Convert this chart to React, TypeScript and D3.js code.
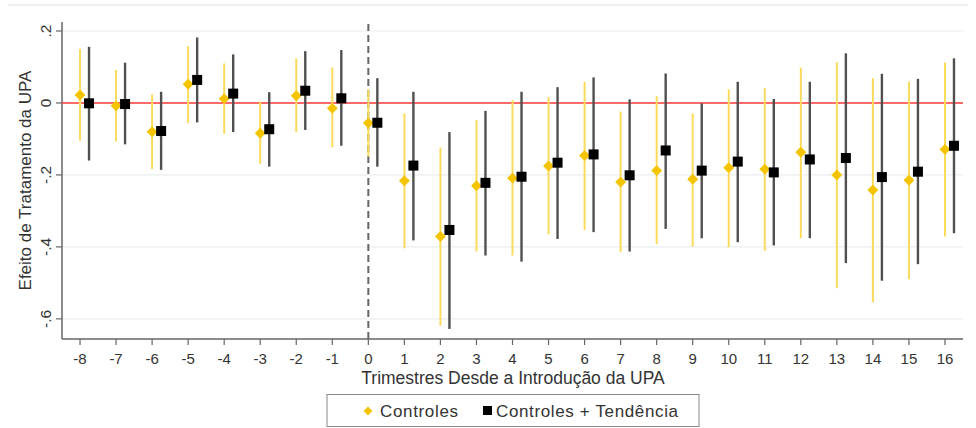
import React from 'react';
import * as d3 from 'd3';

// trimestres desde a introdução da UPA
const periods = [-8, -7, -6, -5, -4, -3, -2, -1, 0, 1, 2, 3, 4, 5, 6, 7, 8, 9, 10, 11, 12, 13, 14, 15, 16];

// Controles
const ctrlEst = [0.022, -0.008, -0.080, 0.052, 0.012, -0.084, 0.020, -0.015, -0.056, -0.216, -0.371, -0.230, -0.209, -0.175, -0.146, -0.220, -0.188, -0.212, -0.180, -0.184, -0.137, -0.200, -0.242, -0.215, -0.129];
const ctrlHi = [0.150, 0.092, 0.024, 0.158, 0.110, 0.004, 0.124, 0.099, 0.038, -0.029, -0.124, -0.047, 0.008, 0.016, 0.059, -0.024, 0.019, -0.029, 0.038, 0.041, 0.098, 0.113, 0.069, 0.059, 0.112];
const ctrlLo = [-0.105, -0.107, -0.184, -0.056, -0.086, -0.169, -0.081, -0.123, -0.149, -0.404, -0.619, -0.413, -0.424, -0.365, -0.353, -0.415, -0.393, -0.399, -0.401, -0.411, -0.376, -0.515, -0.554, -0.490, -0.371];

// Controles + Tendência
const trendEst = [-0.001, -0.003, -0.078, 0.064, 0.026, -0.073, 0.034, 0.013, -0.055, -0.174, -0.353, -0.222, -0.205, -0.166, -0.143, -0.201, -0.132, -0.188, -0.163, -0.193, -0.157, -0.153, -0.206, -0.191, -0.119];
const trendHi = [0.156, 0.112, 0.031, 0.182, 0.135, 0.030, 0.144, 0.147, 0.069, 0.031, -0.081, -0.022, 0.031, 0.044, 0.071, 0.010, 0.082, -0.001, 0.059, 0.011, 0.059, 0.138, 0.081, 0.067, 0.124];
const trendLo = [-0.160, -0.115, -0.186, -0.054, -0.081, -0.177, -0.075, -0.119, -0.177, -0.382, -0.628, -0.424, -0.441, -0.378, -0.359, -0.413, -0.350, -0.376, -0.387, -0.396, -0.376, -0.445, -0.494, -0.448, -0.362];

const yTicks = [0.2, 0, -0.2, -0.4, -0.6];
const yTickLabels = ['.2', '0', '-.2', '-.4', '-.6'];

const font = '"Liberation Sans", Arial, sans-serif';
const W = 976;
const H = 428;

const x = d3.scaleLinear().domain([-8.5, 16.5]).range([62, 963]);
const y = d3.scaleLinear().domain([-0.656, 0.225]).range([339, 22]);

const gold = '#F5C400';
const goldBar = '#FBDB5C';
const darkBar = '#505050';

export default function App() {
  const diamond = d3.symbol().type(d3.symbolDiamond2).size(76)();
  const shift = 0.25;

  return (
    <svg width={W} height={H} style={{ position: 'absolute', left: 0, top: 0, background: '#fff' }} fontFamily={font}>
      <rect x={0} y={0} width={W} height={H} fill="#fff" />
      <line x1={8} x2={968} y1={5} y2={5} stroke="#f1f1f1" strokeWidth={2} />

      {/* grid */}
      {yTicks.map((t) => (
        <line key={'g' + t} x1={x.range()[0]} x2={x.range()[1]} y1={y(t)} y2={y(t)} stroke="#eaedf0" strokeWidth={1.2} />
      ))}

      {/* axes */}
      <line x1={62} x2={62} y1={y.range()[1]} y2={y.range()[0]} stroke="#666" strokeWidth={1.5} />
      <line x1={62} x2={963} y1={339} y2={339} stroke="#666" strokeWidth={1.5} />

      {yTicks.map((t, i) => (
        <g key={'yt' + t}>
          <line x1={56} x2={62} y1={y(t)} y2={y(t)} stroke="#666" strokeWidth={1.2} />
          <text
            transform={`translate(51, ${y(t)}) rotate(-90)`}
            textAnchor="middle"
            fontSize={15.5}
            fill="#333"
          >
            {yTickLabels[i]}
          </text>
        </g>
      ))}

      {periods.map((p) => (
        <g key={'xt' + p}>
          <line x1={x(p)} x2={x(p)} y1={339} y2={345} stroke="#666" strokeWidth={1.2} />
          <text x={x(p)} y={364} textAnchor="middle" fontSize={15} fill="#333">
            {p}
          </text>
        </g>
      ))}

      <text x={513} y={384} textAnchor="middle" fontSize={17.5} fill="#333">
        Trimestres Desde a Introdução da UPA
      </text>
      <text transform={`translate(31, ${(22 + 339) / 2}) rotate(-90)`} textAnchor="middle" fontSize={17} fill="#333">
        Efeito de Tratamento da UPA
      </text>

      {/* reference lines */}
      <line x1={62} x2={963} y1={y(0)} y2={y(0)} stroke="#FF3B3B" strokeWidth={1.6} />
      <line x1={x(0)} x2={x(0)} y1={24} y2={339} stroke="#666" strokeWidth={2} strokeDasharray="7,4" />

      {/* Controles */}
      {periods.map((p, i) => (
        <line key={'cb' + p} x1={x(p)} x2={x(p)} y1={y(ctrlHi[i])} y2={y(ctrlLo[i])} stroke={goldBar} strokeWidth={2} />
      ))}
      {/* Controles + Tendência */}
      {periods.map((p, i) => (
        <line key={'tb' + p} x1={x(p + shift)} x2={x(p + shift)} y1={y(trendHi[i])} y2={y(trendLo[i])} stroke={darkBar} strokeWidth={2.4} />
      ))}
      {periods.map((p, i) => (
        <path key={'cp' + p} d={diamond} transform={`translate(${x(p)}, ${y(ctrlEst[i])})`} fill={gold} />
      ))}
      {periods.map((p, i) => (
        <rect key={'tp' + p} x={x(p + shift) - 5} y={y(trendEst[i]) - 5} width={10} height={10} fill="#000" />
      ))}

      {/* legend */}
      <rect x={327} y={394.5} width={372} height={32} fill="#fff" stroke="#888" strokeWidth={1} />
      <path d={d3.symbol().type(d3.symbolDiamond2).size(50)()} transform="translate(368, 411)" fill={gold} />
      <text x={380} y={417} fontSize={17} fill="#333" textLength={78}>Controles</text>
      <rect x={483} y={406} width={9} height={9} fill="#000" />
      <text x={496} y={417} fontSize={17} fill="#333" textLength={182}>Controles + Tendência</text>
    </svg>
  );
}
